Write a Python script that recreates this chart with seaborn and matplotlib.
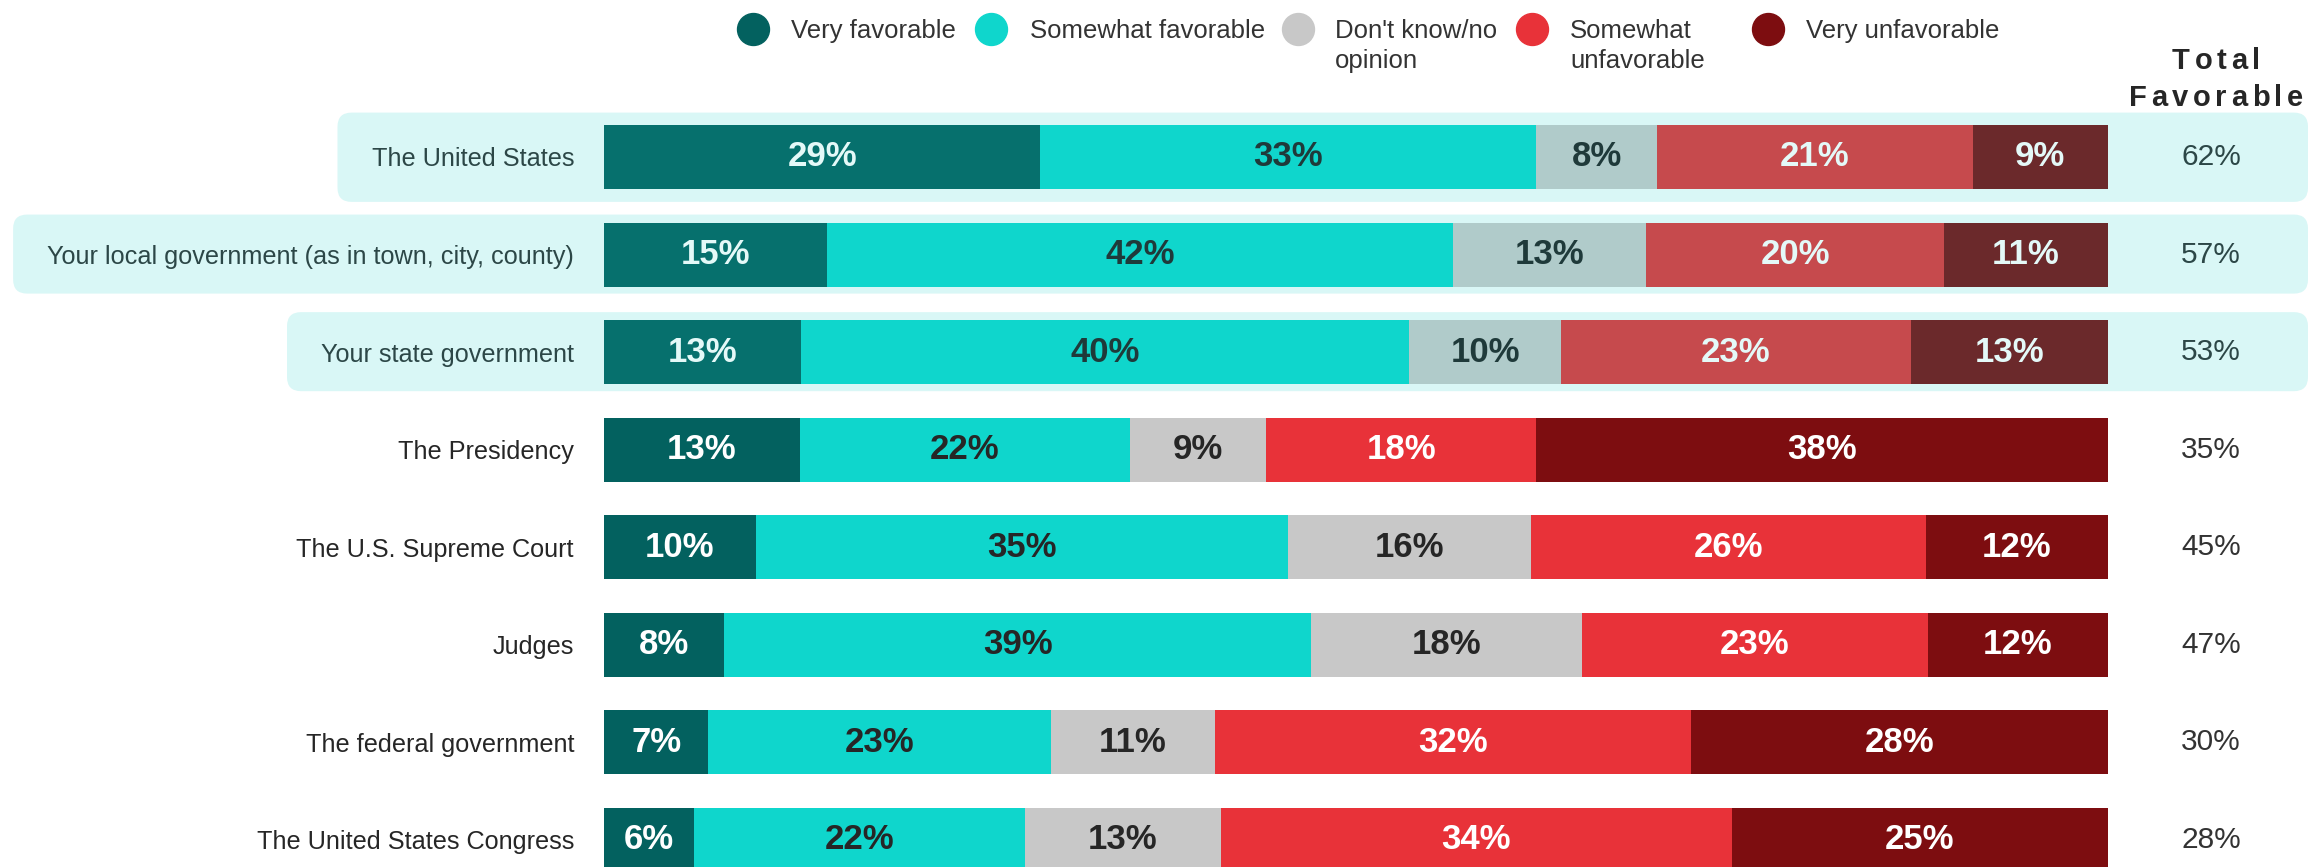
import numpy as np
import pandas as pd
import matplotlib.pyplot as plt
import seaborn as sns
from matplotlib.patches import FancyBboxPatch
from matplotlib.lines import Line2D

# =========================================================
# data
# =========================================================

categories = [
    "The United States",
    "Your local government (as in town, city, county)",
    "Your state government",
    "The Presidency",
    "The U.S. Supreme Court",
    "Judges",
    "The federal government",
    "The United States Congress",
]

very_favorable = [29, 15, 13, 13, 10, 8, 7, 6]
somewhat_favorable = [33, 42, 40, 22, 35, 39, 23, 22]
dont_know = [8, 13, 10, 9, 16, 18, 11, 13]
somewhat_unfavorable = [21, 20, 23, 18, 26, 23, 32, 34]
very_unfavorable = [9, 11, 13, 38, 12, 12, 28, 25]

total_favorable = [62, 57, 53, 35, 45, 47, 30, 28]

highlighted = [True, True, True, False, False, False, False, False]

series_names = [
    "Very favorable",
    "Somewhat favorable",
    "Don't know/no\nopinion",
    "Somewhat\nunfavorable",
    "Very unfavorable",
]

# =========================================================
# style
# =========================================================

colors_normal = ["#03615f", "#0fd6cc", "#c8c8c8", "#e83239", "#7d0d10"]
colors_soft = ["#06706d", "#0fd6cc", "#b0cbca", "#c64a4d", "#6b292b"]
white_text = [True, False, False, True, True]

sns.set_theme(style="white")
plt.rcParams["font.family"] = ["Liberation Sans", "DejaVu Sans"]

W, H = 2313, 867
row_px = 97.57      # distance between rows
first_px = 157      # centre of first row from top

fig = plt.figure(figsize=(W / 100, H / 100), dpi=100)

# background axes in pixel units (for the highlight boxes / legend)
bg = fig.add_axes([0, 0, 1, 1], zorder=0)
bg.set_xlim(0, W)
bg.set_ylim(0, H)
bg.axis("off")

ax = fig.add_axes([604 / W, 0, 1504 / W, 1], zorder=1)
ax.patch.set_alpha(0)

# =========================================================
# stacked bars (cumulative layers, drawn from right to left)
# =========================================================

values = np.array([very_favorable, somewhat_favorable, dont_know,
                   somewhat_unfavorable, very_unfavorable], dtype=float)
shares = values / values.sum(axis=0) * 100
cum = shares.cumsum(axis=0)

for k in range(4, -1, -1):
    pal = {c: (colors_soft[k] if hl else colors_normal[k])
           for c, hl in zip(categories, highlighted)}
    df = pd.DataFrame({"category": categories, "value": cum[k]})
    sns.barplot(data=df, x="value", y="category", hue="category",
                palette=pal, legend=False, orient="h", width=0.656,
                saturation=1, linewidth=0, errorbar=None, ax=ax)

# percentage labels
for i in range(len(categories)):
    for k in range(5):
        x = cum[k][i] - shares[k][i] / 2
        if highlighted[i]:
            c = "#e4f9f8" if white_text[k] else "#1f3a3a"
        else:
            c = "white" if white_text[k] else "#262626"
        ax.text(x, i, f"{values[k][i]:.0f}%", ha="center", va="center",
                fontsize=25, fontweight="bold", color=c)

    # total favorable column
    ax.text(106.85, i, f"{total_favorable[i]}%", ha="center", va="center",
            fontsize=21.5, color="#2c4747" if highlighted[i] else "#333333",
            clip_on=False)

ax.set_xlim(0, 100)
ax.set_ylim((H - first_px) / row_px, -first_px / row_px)
ax.set_xlabel("")
ax.set_ylabel("")
ax.set_xticks([])
sns.despine(ax=ax, left=True, bottom=True)
ax.tick_params(axis="y", length=0, pad=21.6, labelsize=18.2)

for lbl, hl in zip(ax.get_yticklabels(), highlighted):
    lbl.set_color("#2c4747" if hl else "#262626")

# =========================================================
# highlight boxes behind the first rows
# =========================================================

fig.canvas.draw()
renderer = fig.canvas.get_renderer()

for i, (lbl, hl) in enumerate(zip(ax.get_yticklabels(), highlighted)):
    if not hl:
        continue
    half_top = 0.455 if i == 0 else 0.41
    half_bot = 0.46 if i == 0 else 0.40
    bb = lbl.get_window_extent(renderer)
    x0 = bb.x0 - 34
    y_hi = ax.transData.transform((0, i - half_top))[1]
    y_lo = ax.transData.transform((0, i + half_bot))[1]
    box = FancyBboxPatch((x0, y_lo), 2308 - x0, y_hi - y_lo,
                         boxstyle="round,pad=0,rounding_size=14",
                         facecolor="#d9f7f6", edgecolor="none")
    bg.add_patch(box)

# =========================================================
# legend
# =========================================================

marker_x = [753, 991, 1298, 1532, 1768]
text_x = [791, 1030, 1335, 1570, 1806]

for k in range(5):
    bg.add_line(Line2D([marker_x[k]], [H - 29], marker="o", markersize=23,
                       color=colors_normal[k], linestyle="none"))
    bg.text(text_x[k], H - 19, series_names[k], fontsize=18.5,
            ha="left", va="top", linespacing=1.3, color="#333333")

# =========================================================
# "Total Favorable" header with letter spacing
# =========================================================

def spaced_text(cx, y, s, gap, **kw):
    widths = []
    for ch in s:
        t = bg.text(0, 0, ch, **kw)
        widths.append(t.get_window_extent(renderer).width)
        t.remove()
    x = cx - (sum(widths) + gap * (len(s) - 1)) / 2
    for ch, w in zip(s, widths):
        bg.text(x, y, ch, ha="left", va="baseline", **kw)
        x += w + gap

spaced_text(2216, H - 69, "Total", 4.5, fontsize=21, fontweight="bold", color="#262626")
spaced_text(2216, H - 106, "Favorable", 4.5, fontsize=21, fontweight="bold", color="#262626")

fig.savefig("out.png", dpi=100)
